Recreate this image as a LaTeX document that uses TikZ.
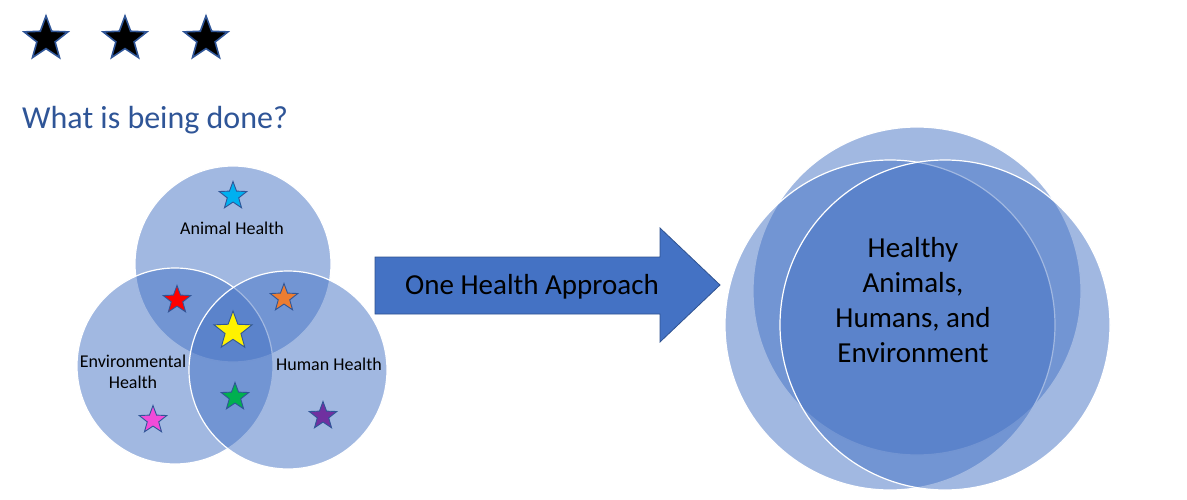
\documentclass[tikz,border=0pt]{standalone}
\usepackage{fontspec}
\setmainfont{Carlito}
\usetikzlibrary{shapes.geometric}

\definecolor{venn}{HTML}{4472C4}
\definecolor{edgeblue}{HTML}{2F5597}
\definecolor{arrowedge}{HTML}{2F528F}
\definecolor{titleblue}{HTML}{2F5597}

\tikzset{
  vcirc/.style={circle, fill=venn, fill opacity=0.5, draw=white, line width=1.2pt, inner sep=0pt},
  vstar/.style={star, star points=5, star point ratio=2.4, draw=edgeblue, line width=0.9pt, inner sep=0pt, minimum size=29pt},
  topstar/.style={star, star points=5, star point ratio=2.4, fill=black, draw=edgeblue, line width=1.6pt, inner sep=0pt, minimum size=46pt},
  vlabel/.style={font=\fontsize{18}{21}\selectfont, align=center, inner sep=0pt},
}

\begin{document}
\begin{tikzpicture}[x=1pt, y=-1pt]
    \useasboundingbox (0,0) rectangle (1187,500);

    % rating stars
    \node[topstar] (s1) at (46,39) {};
    \node[topstar] (s2) at (125,39) {};
    \node[topstar] (s3) at (206,39) {};

    \node[anchor=west, inner sep=0pt, text=titleblue, font=\fontsize{32}{38}\selectfont] (title) at (22,120) {What is being done?};

    % three health circles
    \node[vcirc, minimum size=196pt] (animal) at (233,264) {};
    \node[vcirc, minimum size=196pt] (envir) at (175,366) {};
    \node[vcirc, minimum size=198pt] (human) at (288,370) {};

    \node[vlabel] (animallbl) at (232,228) {Animal Health};
    \node[vlabel] (envirlbl) at (133,372) {Environmental\\Health};
    \node[vlabel] (humanlbl) at (329,364) {Human Health};

    \node[vstar, fill={rgb,255:red,0;green,176;blue,240}] (sa) at (233,196) {};
    \node[vstar, fill=red] (sae) at (177,300) {};
    \node[vstar, fill={rgb,255:red,237;green,125;blue,49}] (sah) at (284,298) {};
    \node[vstar, fill=yellow, minimum size=40pt] (sall) at (233,331) {};
    \node[vstar, fill={rgb,255:red,0;green,176;blue,80}] (seh) at (235,397) {};
    \node[vstar, fill={rgb,255:red,242;green,75;blue,217}] (se) at (153,420) {};
    \node[vstar, fill={rgb,255:red,112;green,48;blue,160}] (sh) at (323,416) {};

    % arrow
    \draw[fill=venn, draw=arrowedge, line width=0.8pt]
        (375,257) -- (660,257) -- (660,228) -- (720,285) -- (660,342) -- (660,314) -- (375,314) -- cycle;
    \node[font=\fontsize{29}{35}\selectfont, inner sep=0pt] (approach) at (532,287) {One Health Approach};

    % merged circles
    \node[vcirc, minimum size=328pt] (top) at (917,291) {};
    \node[vcirc, minimum size=330pt] (left) at (890,325) {};
    \node[vcirc, minimum size=330pt] (right) at (945,325) {};
    \node[font=\fontsize{29}{35}\selectfont, align=center, inner sep=0pt] (goal) at (913,300) {Healthy\\Animals,\\Humans, and\\Environment};
\end{tikzpicture}
\end{document}
